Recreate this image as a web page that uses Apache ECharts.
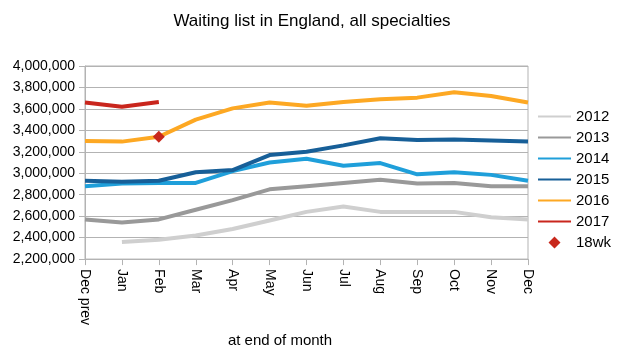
<!DOCTYPE html>
<html>
<head>
<meta charset="utf-8">
<script src="https://cdn.jsdelivr.net/npm/echarts@6/dist/echarts.min.js"></script>
<style>
  html, body { margin: 0; padding: 0; background: #fff; }
  #chart { width: 617px; height: 353px; }
</style>
</head>
<body>
<div id="chart"></div>
<script>
const months = ['Dec prev', 'Jan', 'Feb', 'Mar', 'Apr', 'May', 'Jun', 'Jul', 'Aug', 'Sep', 'Oct', 'Nov', 'Dec'];

const y2012 = ['-', 2360000, 2380000, 2420000, 2480000, 2560000, 2640000, 2690000, 2640000, 2640000, 2640000, 2590000, 2570000];
const y2013 = [2570000, 2540000, 2570000, 2660000, 2750000, 2850000, 2880000, 2910000, 2940000, 2905000, 2910000, 2878000, 2878000];
const y2014 = [2880000, 2905000, 2910000, 2910000, 3020000, 3100000, 3135000, 3070000, 3095000, 2990000, 3010000, 2985000, 2930000];
const y2015 = [2930000, 2920000, 2930000, 3010000, 3030000, 3170000, 3200000, 3260000, 3327000, 3310000, 3315000, 3305000, 3295000];
const y2016 = [3300000, 3295000, 3340000, 3500000, 3605000, 3660000, 3630000, 3665000, 3690000, 3705000, 3755000, 3720000, 3660000];
const y2017 = [3660000, 3620000, 3665000];
const wk18 = ['-', '-', 3340000];

const legendNames = ['2012', '2013', '2014', '2015', '2016', '2017', '18wk'];

const colors = {
  '2012': '#cfcfcf',
  '2013': '#999999',
  '2014': '#1f9fda',
  '2015': '#175f98',
  '2016': '#fda823',
  '2017': '#c9261d',
  '18wk': '#c8281c'
};

const chart = echarts.init(document.getElementById('chart'));

// thin bar / small diamond inside a 33x12 box (tiny corner marks keep the box size)
const lineIcon = 'path://M0,0L0.01,0L0.01,0.01ZM33,12L32.99,12L32.99,11.99ZM0,4.9L33,4.9L33,7.1L0,7.1Z';
const diamondIcon = 'path://M0,0L0.01,0L0.01,0.01ZM33,12L32.99,12L32.99,11.99ZM16.5,0L22.5,6L16.5,12L10.5,6Z';

function lineSeries(name, data) {
  return {
    name: name,
    type: 'line',
    data: data,
    symbol: 'none',
    color: colors[name],
    itemStyle: { color: colors[name] },
    lineStyle: { width: 4, color: colors[name] },
    animation: false
  };
}

const fmt = v => v.toString().replace(/\B(?=(\d{3})+(?!\d))/g, ',');

chart.setOption({
  animation: false,
  textStyle: { fontFamily: 'Liberation Sans, Arial, sans-serif' },
  title: {
    text: 'Waiting list in England, all specialties',
    left: 307,
    textAlign: 'center',
    top: 8,
    textStyle: { fontSize: 17, fontWeight: 'normal', color: '#000' }
  },
  legend: {
    orient: 'vertical',
    left: 538,
    top: 109,
    padding: 0,
    itemWidth: 33,
    itemHeight: 12,
    itemGap: 6,
    lineStyle: { width: 0 },
    textStyle: { fontSize: 15, color: '#000', lineHeight: 15 },
    data: legendNames.map(n => ({ name: n, icon: n === '18wk' ? diamondIcon : lineIcon }))
  },
  grid: {
    left: 85,
    right: 89,
    top: 66,
    bottom: 82,
    show: true,
    borderColor: '#b3b3b3',
    borderWidth: 1
  },
  xAxis: {
    type: 'category',
    data: months,
    boundaryGap: false,
    name: 'at end of month',
    nameLocation: 'middle',
    nameGap: 66,
    nameTextStyle: { fontSize: 15, color: '#000', padding: [0, 53, 0, 0] },
    axisLine: { lineStyle: { color: '#b3b3b3' } },
    axisTick: { alignWithLabel: true, length: 6, lineStyle: { color: '#b3b3b3' } },
    axisLabel: { rotate: -90, fontSize: 14, color: '#000', margin: 10, interval: 0 }
  },
  yAxis: {
    type: 'value',
    min: 2200000,
    max: 4000000,
    interval: 200000,
    axisLine: { show: true, lineStyle: { color: '#b3b3b3' } },
    axisTick: { show: true, length: 6, lineStyle: { color: '#b3b3b3' } },
    axisLabel: { fontSize: 14, color: '#000', margin: 10, formatter: fmt },
    splitLine: { lineStyle: { color: '#b3b3b3' } }
  },
  series: [
    lineSeries('2012', y2012),
    lineSeries('2013', y2013),
    lineSeries('2014', y2014),
    lineSeries('2015', y2015),
    lineSeries('2016', y2016),
    lineSeries('2017', y2017),
    {
      name: '18wk',
      type: 'scatter',
      data: wk18,
      symbol: 'diamond',
      symbolSize: 12,
      color: colors['18wk'],
      itemStyle: { color: colors['18wk'], opacity: 1 },
      z: 5
    }
  ]
});
</script>
</body>
</html>
